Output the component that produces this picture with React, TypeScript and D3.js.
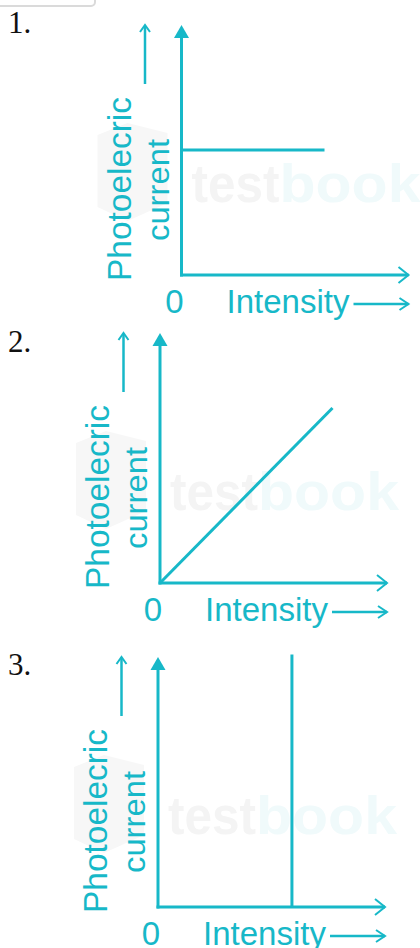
import React from "react";
import * as d3 from "d3";

// ---- data ----
const panelLabels = ["1.", "2.", "3."];
const yLabelLine1 = "Photoelecric";
const yLabelLine2 = "current";
const xLabel = "Intensity";
const originLabel = "0";
const xDomain = [0, 10];
const yDomain = [0, 10];
// photoelectric current vs intensity for each option
const intensity1 = [0, 6.3];
const current1 = [5, 5];
const intensity2 = [0, 7.6];
const current2 = [0, 7.0];
const intensity3 = [5.9, 5.9];
const current3 = [0, 10.1];
const intensities = [intensity1, intensity2, intensity3];
const currents = [current1, current2, current3];

// ---- layout ----
const W = 420;
const H = 948;
const origins = [
  { ox: 181.5, oy: 275, ny: 33 },
  { ox: 160, oy: 583, ny: 352 },
  { ox: 158, oy: 907, ny: 675 },
];
const AW = 227;
const AH = 250;
const C = "#17b8c8";
const SANS = "'Liberation Sans', Arial, Helvetica, sans-serif";

function Panel({ idx }: { idx: number }) {
  const { ox, oy, ny } = origins[idx];
  const x = d3.scaleLinear().domain(xDomain).range([ox, ox + AW]);
  const y = d3.scaleLinear().domain(yDomain).range([oy, oy - AH]);
  const pts: [number, number][] = intensities[idx].map((v, i) => [v, currents[idx][i]]);
  const line = d3
    .line<[number, number]>()
    .x((d) => x(d[0]))
    .y((d) => y(d[1]));
  const x0 = x(0);
  const y0 = y(0);
  const yTop = y(10);
  const xEnd = x(10);
  return (
    <g>
      {/* watermark */}
      <g>
        <path
          d={`M${x0 - 84},${y0 - 140} l30,-12 l40,10 l0,70 l-40,18 l-30,-14 z`}
          fill="#f7f7f7"
        />
        <text
          x={x0 + 10}
          y={y0 - 73}
          fontFamily={SANS}
          fontWeight="bold"
          fontSize={54}
          fill="#f4f4f4"
          textLength={88}
          lengthAdjust="spacingAndGlyphs"
        >
          test
        </text>
        <text
          x={x0 + 98}
          y={y0 - 73}
          fontFamily={SANS}
          fontWeight="bold"
          fontSize={54}
          fill="#f0fafb"
          textLength={141}
          lengthAdjust="spacingAndGlyphs"
        >
          book
        </text>
      </g>
      {/* panel number */}
      <text x={8} y={ny} fontFamily="'Liberation Serif', 'Times New Roman', serif" fontSize={31} fill="#111">
        {panelLabels[idx]}
      </text>
      {/* y axis */}
      <line x1={x0} y1={y0 + 1.5} x2={x0} y2={yTop + 10} stroke={C} strokeWidth={3} />
      <path d={`M${x0},${yTop} L${x0 - 7.5},${yTop + 13} L${x0 + 7.5},${yTop + 13} Z`} fill={C} />
      {/* x axis */}
      <line x1={x0 - 1.5} y1={y0} x2={xEnd} y2={y0} stroke={C} strokeWidth={3} />
      <path
        d={`M${xEnd - 10},${y0 - 8} L${xEnd},${y0} L${xEnd - 10},${y0 + 8}`}
        fill="none"
        stroke={C}
        strokeWidth={2}
      />
      {/* data line */}
      <path d={line(pts) || ""} fill="none" stroke={C} strokeWidth={3} />
      {/* y label arrow */}
      <line x1={x0 - 36.5} y1={y0 - 191} x2={x0 - 36.5} y2={yTop + 1} stroke={C} strokeWidth={2.5} />
      <path
        d={`M${x0 - 41.5},${yTop + 7} L${x0 - 36.5},${yTop} L${x0 - 31.5},${yTop + 7}`}
        fill="none"
        stroke={C}
        strokeWidth={2}
      />
      {/* y labels */}
      <text
        transform={`translate(${x0 - 51},${y0 + 6}) rotate(-90)`}
        fontFamily={SANS}
        fontSize={34}
        fill={C}
        textLength={184}
        lengthAdjust="spacingAndGlyphs"
      >
        {yLabelLine1}
      </text>
      <text
        transform={`translate(${x0 - 13},${y0 - 34}) rotate(-90)`}
        fontFamily={SANS}
        fontSize={32}
        fill={C}
        textLength={102}
        lengthAdjust="spacingAndGlyphs"
      >
        {yLabelLine2}
      </text>
      {/* x labels */}
      <text x={x0 - 7} y={y0 + 38} textAnchor="middle" fontFamily={SANS} fontSize={33} fill={C}>
        {originLabel}
      </text>
      <text
        x={x0 + 45}
        y={y0 + 38}
        fontFamily={SANS}
        fontSize={33}
        fill={C}
        textLength={123}
        lengthAdjust="spacingAndGlyphs"
      >
        {xLabel}
      </text>
      <line x1={x0 + 172} y1={y0 + 29} x2={xEnd} y2={y0 + 29} stroke={C} strokeWidth={2.5} />
      <path
        d={`M${xEnd - 9},${y0 + 23} L${xEnd},${y0 + 29} L${xEnd - 9},${y0 + 35}`}
        fill="none"
        stroke={C}
        strokeWidth={2}
      />
    </g>
  );
}

export default function App() {
  return (
    <svg
      width={W}
      height={H}
      viewBox={`0 0 ${W} ${H}`}
      style={{ position: "absolute", left: 0, top: 0, background: "#fff" }}
    >
      <rect x={0} y={0} width={W} height={H} fill="#fff" />
      <rect x={-10} y={-20} width={105} height={26} rx={4} fill="#fff" stroke="#dadada" strokeWidth={2} />
      {panelLabels.map((_, i) => (
        <Panel key={i} idx={i} />
      ))}
    </svg>
  );
}
